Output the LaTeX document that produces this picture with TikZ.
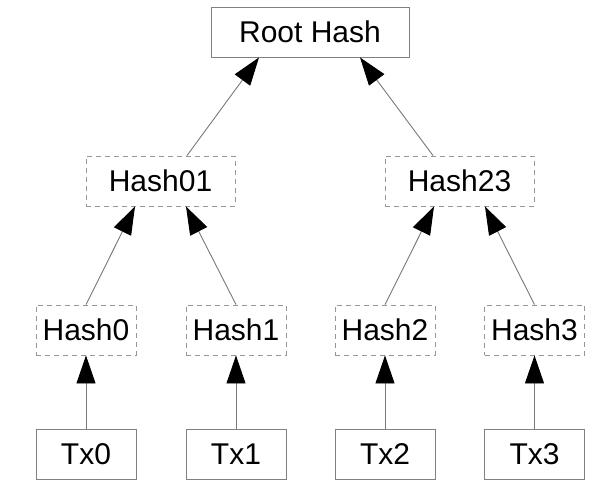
\documentclass[tikz,border=0pt]{standalone}
\usepackage{fontspec}
\setmainfont{Liberation Sans}
\usetikzlibrary{arrows.meta}
\definecolor{boxgray}{RGB}{128,128,128}
\definecolor{dashgray}{RGB}{150,150,150}
\definecolor{edgegray}{RGB}{120,120,120}
\tikzset{
  solidbox/.style={draw=boxgray, line width=0.9pt, minimum height=50pt, inner sep=0pt, font=\fontsize{30}{36}\selectfont},
  dashbox/.style={draw=dashgray, line width=0.9pt, dash pattern=on 5pt off 4pt, minimum height=50pt, inner sep=0pt, font=\fontsize{30}{36}\selectfont},
  edge/.style={draw=edgegray, line width=0.9pt, -{Triangle[length=28pt,width=19pt,color=black,fill=black]}}
}
\begin{document}
\begin{tikzpicture}[x=1pt,y=-1pt]
\useasboundingbox (0,0) rectangle (599,497);
\node[solidbox, minimum width=198pt] (root) at (310,32) {Root Hash};
\node[dashbox, minimum width=149pt] (h01) at (160.5,181) {Hash01};
\node[dashbox, minimum width=149pt] (h23) at (459.5,181) {Hash23};
\node[dashbox, minimum width=100pt] (h0) at (86,330) {Hash0};
\node[dashbox, minimum width=100pt] (h1) at (236,330) {Hash1};
\node[dashbox, minimum width=100pt] (h2) at (385,330) {Hash2};
\node[dashbox, minimum width=100pt] (h3) at (534.5,330) {Hash3};
\node[solidbox, minimum width=100pt] (t0) at (86,454) {Tx0};
\node[solidbox, minimum width=100pt] (t1) at (236,454) {Tx1};
\node[solidbox, minimum width=100pt] (t2) at (385,454) {Tx2};
\node[solidbox, minimum width=100pt] (t3) at (534.5,454) {Tx3};
\draw[edge] ([xshift=26.5pt]h01.north) -- ([xshift=-51pt]root.south);
\draw[edge] ([xshift=-26.5pt]h23.north) -- ([xshift=50pt]root.south);
\draw[edge] (h0.north) -- ([xshift=-25.5pt]h01.south);
\draw[edge] (h1.north) -- ([xshift=25.5pt]h01.south);
\draw[edge] (h2.north) -- ([xshift=-25.5pt]h23.south);
\draw[edge] (h3.north) -- ([xshift=25.5pt]h23.south);
\draw[edge] (t0) -- (h0);
\draw[edge] (t1) -- (h1);
\draw[edge] (t2) -- (h2);
\draw[edge] (t3) -- (h3);
\end{tikzpicture}
\end{document}
